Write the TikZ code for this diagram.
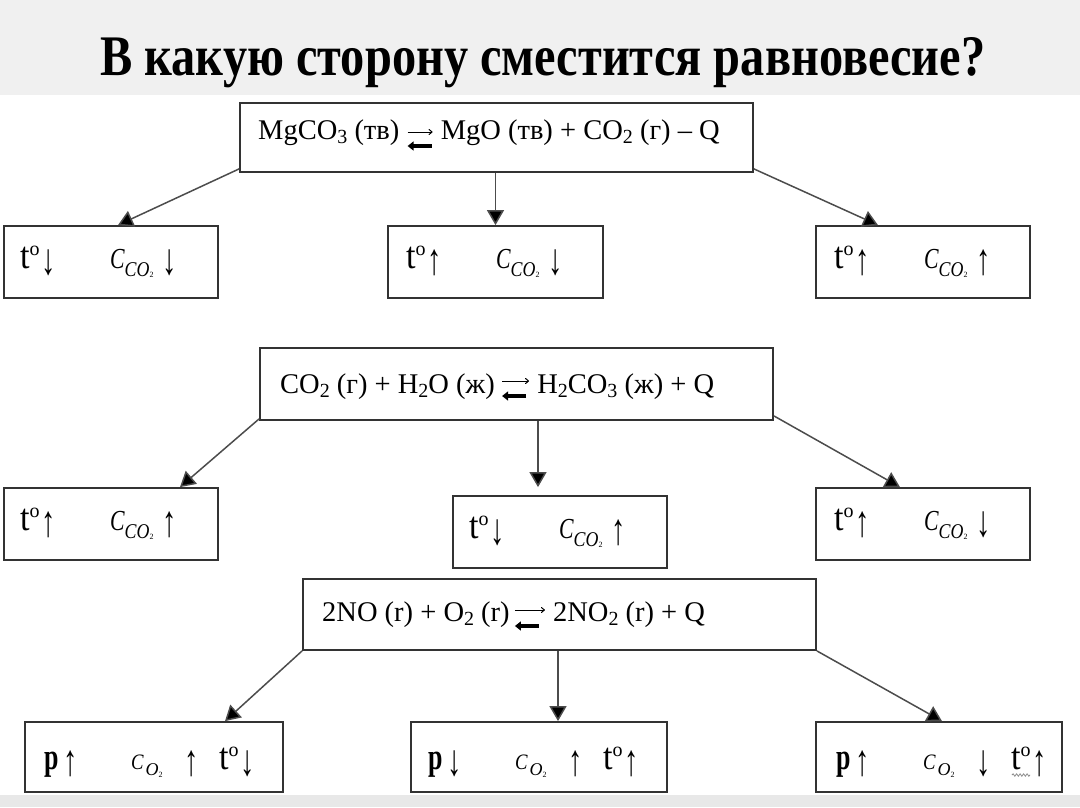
\documentclass[tikz,border=0pt]{standalone}
\usepackage{fontspec}
\setmainfont{Liberation Serif}
\usepackage{graphicx}
\usetikzlibrary{arrows.meta,calc,decorations.pathmorphing}
\newcommand{\chsub}[1]{\raisebox{-4pt}{\fontsize{20}{20}\selectfont #1}}
\newcommand{\mytdeg}{\scalebox{0.9}[1]{\fontsize{38}{38}\selectfont t}\raisebox{13pt}{\fontsize{20}{20}\selectfont o}}
\newcommand{\myua}{\raisebox{-6pt}{\scalebox{0.65}[1]{\fontsize{44}{44}\selectfont ↑}}}
\newcommand{\myda}{\raisebox{-6pt}{\scalebox{0.65}[1]{\fontsize{44}{44}\selectfont ↓}}}
\newcommand{\mypp}{\scalebox{0.7}[1]{\fontsize{37}{37}\selectfont\bfseries p}}
\newcommand{\myco}{\scalebox{0.75}[1]{\fontsize{29}{29}\selectfont\itshape C}\raisebox{-8pt}{\scalebox{0.85}[1]{\fontsize{21}{21}\selectfont\itshape CO}}\raisebox{-9pt}{\fontsize{8}{8}\selectfont 2}}
\newcommand{\myot}{\scalebox{0.85}[1]{\fontsize{22}{22}\selectfont\itshape C}\kern2pt\raisebox{-6pt}{\fontsize{18}{18}\selectfont\itshape O}\raisebox{-8pt}{\fontsize{8}{8}\selectfont 2}}
\newcommand{\rowAB}[2]{\makebox[21pt][l]{\mytdeg}\makebox[69pt][l]{#1}\makebox[52pt][l]{\myco}#2}
\newcommand{\rowC}[3]{\makebox[19pt][l]{\mypp}\makebox[68pt][l]{#1}\makebox[53pt][l]{\myot}\makebox[35pt][l]{#2}\makebox[21pt][l]{\mytdeg}#3}
\begin{document}
\begin{tikzpicture}[x=1pt,y=-1pt,
  rbox/.style={draw=black!80, line width=1.8pt, rectangle, inner sep=0pt, fill=white},
  eqtext/.style={inner sep=0pt, font=\fontsize{28.5}{28.5}\selectfont, anchor=base west},
  btxt/.style={inner sep=0pt, anchor=base west},
  conn/.style={draw=black!70, line width=1.5pt, -{Triangle[length=15pt,width=17pt,fill=black]}},
  fwd/.style={line width=1pt, -{To[length=4pt,width=6pt]}},
  bwd/.style={line width=3.4pt, -{Triangle[length=6pt,width=9pt]}},
]
\useasboundingbox (0,0) rectangle (1080,807);
\fill[black!6] (0,0) rectangle (1080,95);
\fill[black!9] (0,795) rectangle (1080,807);

\node[anchor=base west, inner sep=0pt] (title) at (100,75)
  {\resizebox{885pt}{38pt}{\bfseries В какую сторону сместится равновесие?}};

% equation boxes
\node[rbox, minimum width=513pt, minimum height=69pt] (eq1) at (496.5,137.5) {};
\node[rbox, minimum width=513pt, minimum height=72pt] (eq2) at (516.5,384) {};
\node[rbox, minimum width=513pt, minimum height=71pt] (eq3) at (559.5,614.5) {};

% result boxes
\node[rbox, minimum width=214pt, minimum height=72pt] (b11) at (111,262) {};
\node[rbox, minimum width=215pt, minimum height=72pt] (b12) at (495.5,262) {};
\node[rbox, minimum width=214pt, minimum height=72pt] (b13) at (923,262) {};
\node[rbox, minimum width=214pt, minimum height=72pt] (b21) at (111,524) {};
\node[rbox, minimum width=214pt, minimum height=72pt] (b22) at (560,532) {};
\node[rbox, minimum width=214pt, minimum height=72pt] (b23) at (923,524) {};
\node[rbox, minimum width=258pt, minimum height=70pt] (b31) at (154,757) {};
\node[rbox, minimum width=256pt, minimum height=70pt] (b32) at (539,757) {};
\node[rbox, minimum width=246pt, minimum height=70pt] (b33) at (939,757) {};

% connectors
\draw[conn] ([yshift=4pt]eq1.south west) -- ([xshift=7pt]b11.north);
\draw[conn] (eq1.south -| b12.north) -- (b12.north);
\draw[conn] ([yshift=4pt]eq1.south east) -- ([xshift=-45pt]b13.north);
\draw[conn] ([yshift=2pt]eq2.south west) -- ([xshift=69pt]b21.north);
\draw[conn] ([xshift=-22pt]b22.north |- eq2.south) -- ([xshift=-22pt,yshift=8pt]b22.north);
\draw[conn] ([yshift=5pt]eq2.south east) -- ([xshift=-23pt]b23.north);
\draw[conn] (eq3.south west) -- ([xshift=71pt]b31.north);
\draw[conn] ([xshift=19pt]b32.north |- eq3.south) -- ([xshift=19pt]b32.north);
\draw[conn] (eq3.south east) -- ([xshift=3pt]b33.north);

% equation 1
\node[eqtext] (e1L) at (258,139) {MgCO\chsub{3} (тв)};
\coordinate (e1s) at ([xshift=8pt,yshift=7pt]e1L.base east);
\draw[fwd] (e1s) -- ++(25,0) coordinate (e1a);
\draw[bwd] ([yshift=-14pt]e1s) ++(24,0) -- ++(-24,0);
\node[eqtext] (e1R) at ([xshift=8pt,yshift=-7pt]e1a) {MgO (тв) + CO\chsub{2} (г) – Q};

% equation 2
\node[eqtext] (e2L) at (280,393) {CO\chsub{2} (г) + H\chsub{2}O (ж)};
\coordinate (e2s) at ([xshift=7pt,yshift=12pt]e2L.base east);
\draw[fwd] (e2s) -- ++(27,0) coordinate (e2a);
\draw[bwd] ([yshift=-15pt]e2s) ++(24,0) -- ++(-24,0);
\node[eqtext] (e2R) at ([xshift=8pt,yshift=-12pt]e2a) {H\chsub{2}CO\chsub{3} (ж) + Q};

% equation 3
\node[eqtext] (e3L) at (322,621) {2NO (r) + O\chsub{2} (r)};
\coordinate (e3s) at ([xshift=5pt,yshift=11pt]e3L.base east);
\draw[fwd] (e3s) -- ++(30,0) coordinate (e3a);
\draw[bwd] ([yshift=-16pt]e3s) ++(24,0) -- ++(-24,0);
\node[eqtext] (e3R) at ([xshift=8pt,yshift=-11pt]e3a) {2NO\chsub{2} (r) + Q};

% box texts
\node[btxt] (x11) at (20,268) {\rowAB{\myda}{\myda}};
\node[btxt] (x12) at (406,268) {\rowAB{\myua}{\myda}};
\node[btxt] (x13) at (834,268) {\rowAB{\myua}{\myua}};
\node[btxt] (x21) at (20,530) {\rowAB{\myua}{\myua}};
\node[btxt] (x22) at (469,538) {\rowAB{\myda}{\myua}};
\node[btxt] (x23) at (834,530) {\rowAB{\myua}{\myda}};
\node[btxt] (x31) at (44,769) {\rowC{\myua}{\myua}{\myda}};
\node[btxt] (x32) at (428,769) {\rowC{\myda}{\myua}{\myua}};
\node[btxt] (x33) at (836,769) {\rowC{\myua}{\myda}{\myua}};
\draw[black!45, line width=0.8pt, decorate, decoration={snake, amplitude=1.2pt, segment length=3.5pt}]
  ([xshift=176pt,yshift=-6pt]x33.base west) -- ++(18,0);
\end{tikzpicture}
\end{document}
